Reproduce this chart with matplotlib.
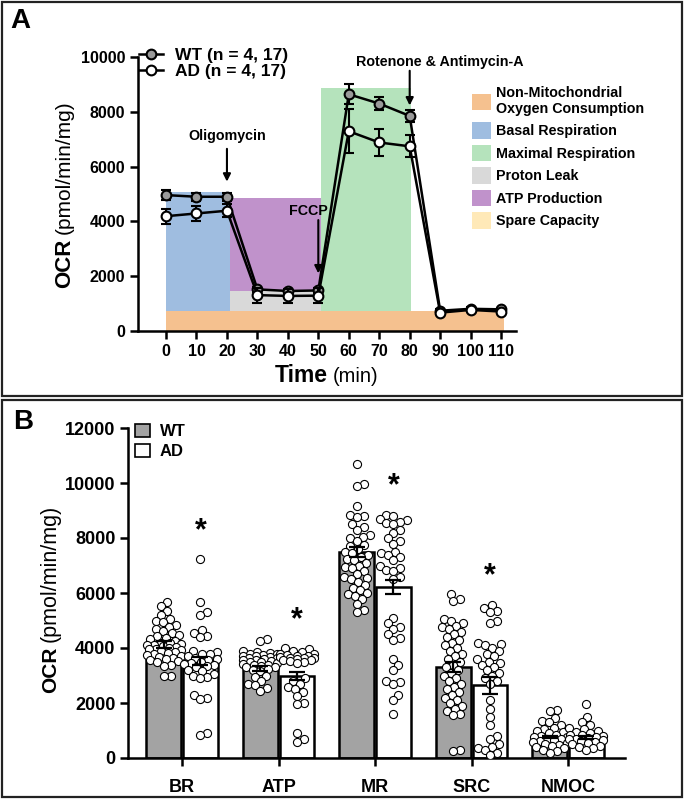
import matplotlib
matplotlib.use("Agg")
import matplotlib.pyplot as plt
import numpy as np
from matplotlib.patches import Patch, Rectangle
from matplotlib.lines import Line2D

plt.rcParams['font.family'] = ['Liberation Sans', 'DejaVu Sans']

W, H = 684, 799

# ---------------- panel A data ----------------
time_min = [0, 10, 20, 30, 40, 50, 60, 70, 80, 90, 100, 110]
wt_ocr = [4960, 4900, 4900, 1520, 1460, 1480, 8640, 8300, 7850, 740, 810, 790]
wt_sem = [180, 150, 150, 100, 90, 90, 370, 240, 220, 60, 60, 60]
ad_ocr = [4190, 4290, 4390, 1310, 1280, 1290, 7290, 6880, 6740, 670, 770, 710]
ad_sem = [280, 260, 240, 270, 250, 270, 800, 490, 400, 60, 60, 60]

region_labels = ['Non-Mitochondrial\nOxygen Consumption', 'Basal Respiration',
                 'Maximal Respiration', 'Proton Leak', 'ATP Production', 'Spare Capacity']
region_colors = ['#F5C18F', '#9FBDE0', '#B5E3BC', '#D9D9D9', '#C092CB', '#FFE9B8']
# (t_start, t_end, ocr_low, ocr_high)
nonmito_span = (0, 111, 0, 740)
basal_span = (0, 21, 740, 5080)
atp_span = (21, 51, 1450, 4850)
leak_span = (21, 51, 740, 1450)
maximal_span = (51, 80.5, 740, 8860)

# ---------------- panel B data ----------------
categories = ['BR', 'ATP', 'MR', 'SRC', 'NMOC']
wt_mean = [4130, 3250, 7490, 3310, 760]
ad_mean = [3530, 2970, 6220, 2640, 750]
wt_err = [130, 80, 190, 170, 50]
ad_err = [160, 150, 270, 300, 50]
star_y = [8260, 5000, 9900, 6620, None]

wt_br = [5680, 5520, 5350, 5200, 5050, 4980, 4950, 4850, 4780, 4700, 4620, 4550, 4480, 4420,
         4380, 4320, 4260, 4200, 4180, 4150, 4120, 4100, 4060, 4030, 4000, 3980, 3950, 3920,
         3880, 3850, 3820, 3780, 3740, 3700, 3680, 3640, 3600, 3560, 3520, 3480, 3400, 3350,
         3000, 2980]
ad_br = [7220, 5680, 5300, 5200, 4650, 4550, 4450, 4400, 3900, 3850, 3800, 3780, 3700, 3650,
         3600, 3550, 3500, 3450, 3420, 3400, 3350, 3300, 3200, 3150, 3050, 3000, 2950, 2900,
         2300, 2200, 2150, 900, 850]
wt_atp = [4330, 4250, 3900, 3850, 3820, 3800, 3780, 3750, 3720, 3700, 3680, 3650, 3620, 3600,
          3580, 3560, 3540, 3500, 3480, 3450, 3420, 3400, 3380, 3350, 3320, 3300, 3250, 3200,
          3150, 3000, 2950, 2800, 2700, 2650, 2550, 2450]
ad_atp = [4000, 3950, 3900, 3850, 3800, 3780, 3750, 3720, 3700, 3680, 3650, 3640, 3620, 3600,
          3580, 3550, 3520, 3500, 3450, 2900, 2800, 2700, 2600, 2500, 2400, 2250, 2000, 1950,
          900, 700, 600]
wt_mr = [10680, 9950, 9900, 9150, 8850, 8800, 8750, 8500, 8400, 8300, 8100, 8050, 8000, 7900,
         7750, 7700, 7600, 7500, 7450, 7400, 7300, 7250, 7200, 7100, 7000, 6950, 6900, 6800,
         6700, 6600, 6550, 6500, 6400, 6300, 6200, 6100, 6000, 5950, 5900, 5800, 5600, 5400,
         5300]
ad_mr = [8850, 8800, 8700, 8650, 8600, 8550, 8500, 8300, 8200, 8000, 7900, 7800, 7500, 7450,
         7400, 7300, 7200, 7000, 6900, 6850, 6800, 6600, 6500, 5100, 4900, 4750, 4700, 4500,
         4350, 4300, 3600, 3400, 3200, 2800, 2750, 2700, 2300, 2100, 1600]
wt_src = [5950, 5800, 5700, 5050, 5000, 4900, 4800, 4750, 4700, 4600, 4500, 4400, 4300, 4200,
          4100, 4000, 3900, 3800, 3700, 3600, 3500, 3400, 3300, 3200, 3100, 3000, 2900, 2800,
          2700, 2600, 2500, 2400, 2300, 2200, 2100, 2000, 1900, 1800, 1700, 1600, 1550, 300,
          250]
ad_src = [5550, 5450, 5350, 5300, 5000, 4900, 4200, 4150, 4100, 4000, 3900, 3800, 3700, 3600,
          3500, 3450, 3400, 3300, 3200, 3100, 3000, 2900, 2800, 2700, 2100, 1800, 1500, 1200,
          800, 700, 500, 400, 350, 300, 200, 100]
wt_nmoc = [1750, 1700, 1450, 1350, 1300, 1200, 1100, 1050, 1000, 950, 900, 850, 800, 780, 750,
           700, 680, 650, 620, 600, 550, 500, 480, 450, 400, 350, 300, 250, 200]
ad_nmoc = [1950, 1500, 1300, 1200, 1100, 1050, 1000, 950, 900, 850, 820, 800, 750, 720, 700,
           680, 650, 620, 600, 550, 500, 450, 400, 350, 300]
wt_points = [wt_br, wt_atp, wt_mr, wt_src, wt_nmoc]
ad_points = [ad_br, ad_atp, ad_mr, ad_src, ad_nmoc]


def fig_box(y_top, y_bot):
    r = Rectangle((2 / W, 1 - y_bot / H), 680 / W, (y_bot - y_top) / H,
                  transform=fig.transFigure, fill=False, edgecolor='#222222', lw=1.6)
    fig.patches.append(r)


def ylabel(x_base, y_split, size_big, size_small):
    fig.text(x_base / W, 1 - (y_split + 2) / H, 'OCR', rotation=90, rotation_mode='anchor',
             ha='right', va='baseline', fontsize=size_big, fontweight='bold')
    fig.text(x_base / W, 1 - (y_split - 3) / H, '(pmol/min/mg)', rotation=90,
             rotation_mode='anchor', ha='left', va='baseline', fontsize=size_small)


def swarm(values, px_per_val, diam, max_half):
    vals = np.asarray(values, dtype=float)
    order = np.argsort(vals)
    cands = [0]
    for k in range(1, max_half + 1):
        cands += [k, -k]
    placed = []
    offs = np.zeros(len(vals))
    for i in order:
        y = vals[i] * px_per_val
        best, best_ov = 0, np.inf
        for c in cands:
            ov = 0.0
            for px, py in placed:
                d = np.hypot(c - px, y - py)
                if d < diam:
                    ov += diam - d
            if ov == 0:
                best = c
                break
            if ov < best_ov - 1e-9:
                best_ov, best = ov, c
        placed.append((best, y))
        offs[i] = best
    return offs


fig = plt.figure(figsize=(W / 100, H / 100), dpi=100)
fig_box(2, 396)
fig_box(400, 797)

# ================= panel A =================
axA = fig.add_axes([138 / W, 1 - 331 / H, (516 - 138) / W, (331 - 57) / H])
spans = [nonmito_span, basal_span, maximal_span, leak_span, atp_span]
for (t0, t1, y0, y1), col in zip(spans, region_colors):
    axA.fill_between([t0, t1], y0, y1, color=col, lw=0, zorder=1)

axA.errorbar(time_min, wt_ocr, yerr=wt_sem, color='black', lw=1.8, marker='o', ms=7,
             mfc='#9A9A9A', mec='black', mew=1.5, capsize=3.5, elinewidth=1.5, capthick=1.5,
             zorder=4)
axA.errorbar(time_min, ad_ocr, yerr=ad_sem, color='black', lw=1.8, marker='o', ms=7,
             mfc='white', mec='black', mew=1.5, capsize=3.5, elinewidth=1.5, capthick=1.5,
             zorder=5)

arrow = dict(arrowstyle='-|>', color='black', lw=1.5, mutation_scale=11)
axA.annotate('', xy=(20, 5350), xytext=(20, 6750), arrowprops=arrow, zorder=6)
axA.text(20, 7120, 'Oligomycin', ha='center', va='center', fontsize=10.3, fontweight='bold')
axA.annotate('', xy=(50, 2000), xytext=(50, 4150), arrowprops=arrow, zorder=6)
axA.text(46.6, 4390, 'FCCP', ha='center', va='center', fontsize=10.3, fontweight='bold')
axA.annotate('', xy=(80, 8130), xytext=(80, 9600), arrowprops=arrow, zorder=6)
axA.text(90, 9820, 'Rotenone & Antimycin-A', ha='center', va='center', fontsize=10.3,
         fontweight='bold')

axA.set_xlim(-9.2, 114.9)
axA.set_ylim(0, 10000)
axA.set_xticks(time_min)
axA.set_yticks(range(0, 10001, 2000))
for s in ['top', 'right']:
    axA.spines[s].set_visible(False)
for s in ['left', 'bottom']:
    axA.spines[s].set_linewidth(1.8)
    axA.spines[s].set_zorder(7)
axA.tick_params(width=1.8, length=6, labelsize=11.5, pad=3)
for lab in axA.get_xticklabels() + axA.get_yticklabels():
    lab.set_fontweight('bold')

hA = [Line2D([], [], color='black', lw=1.8, marker='o', ms=7, mfc='#9A9A9A', mec='black', mew=1.5),
      Line2D([], [], color='black', lw=1.8, marker='o', ms=7, mfc='white', mec='black', mew=1.5)]
legA = fig.legend(hA, ['WT (n = 4, 17)', 'AD (n = 4, 17)'], loc='upper left',
                  bbox_to_anchor=(139 / W, 1 - 48 / H), bbox_transform=fig.transFigure,
                  frameon=False, borderpad=0, borderaxespad=0, handlelength=1.4,
                  handletextpad=0.7, labelspacing=0.05, prop={'weight': 'bold', 'size': 12.5})

hR = [Patch(facecolor=c, edgecolor='none') for c in region_colors]
fig.legend(hR, region_labels, loc='upper left', bbox_to_anchor=(472 / W, 1 - 86 / H),
           bbox_transform=fig.transFigure, frameon=False, borderpad=0, borderaxespad=0,
           handlelength=1.33, handleheight=1.4, handletextpad=0.35, labelspacing=0.42,
           prop={'weight': 'bold', 'size': 10.3})

ylabel(70, 237, 16, 15)
fig.text(328 / W, 1 - 382 / H, 'Time', ha='right', va='baseline', fontsize=16.5,
         fontweight='bold')
fig.text(333 / W, 1 - 382 / H, '(min)', ha='left', va='baseline', fontsize=14.5)
fig.text(10 / W, 1 - 28 / H, 'A', ha='left', va='baseline', fontsize=20, fontweight='bold')

# ================= panel B =================
axB = fig.add_axes([128 / W, 1 - 758 / H, (625 - 128) / W, (758 - 428) / H])
x = np.arange(len(categories))
off, bw = 0.19, 0.36
axB.bar(x - off, wt_mean, width=bw, color='#A3A3A3', edgecolor='black', lw=1.8, zorder=2)
axB.bar(x + off, ad_mean, width=bw, color='white', edgecolor='black', lw=1.8, zorder=2)

px_x = 96.5
px_y = 330 / 12000
for i in range(len(categories)):
    for pts, c in ((wt_points[i], x[i] - off), (ad_points[i], x[i] + off)):
        o = swarm(pts, px_y, 7.0, 17)
        axB.scatter(c + o / px_x, pts, s=34, facecolor='white', edgecolor='black',
                    linewidth=0.8, zorder=3)
axB.errorbar(x - off, wt_mean, yerr=wt_err, fmt='none', ecolor='black', elinewidth=1.6,
             capsize=6, capthick=1.6, zorder=4)
axB.errorbar(x + off, ad_mean, yerr=ad_err, fmt='none', ecolor='black', elinewidth=1.6,
             capsize=6, capthick=1.6, zorder=4)
for i, sy in enumerate(star_y):
    if sy is not None:
        axB.text(x[i] + off, sy, '*', ha='center', va='center', fontsize=22,
                 fontweight='bold')

axB.set_xlim(-0.56, 4.59)
axB.set_ylim(0, 12000)
axB.set_xticks(x)
axB.set_xticklabels(categories)
axB.set_yticks(range(0, 12001, 2000))
for s in ['top', 'right']:
    axB.spines[s].set_visible(False)
for s in ['left', 'bottom']:
    axB.spines[s].set_linewidth(1.8)
axB.tick_params(axis='y', width=1.8, length=6, labelsize=13, pad=3)
axB.tick_params(axis='x', width=1.8, length=6, labelsize=13, pad=9)
for lab in axB.get_xticklabels() + axB.get_yticklabels():
    lab.set_fontweight('bold')

hB = [Patch(facecolor='#A3A3A3', edgecolor='black', lw=1.2),
      Patch(facecolor='white', edgecolor='black', lw=1.2)]
fig.legend(hB, ['WT', 'AD'], loc='upper left', bbox_to_anchor=(135 / W, 1 - 424 / H),
           bbox_transform=fig.transFigure, frameon=False, borderpad=0, borderaxespad=0,
           handlelength=0.9, handleheight=0.78, handletextpad=0.6, labelspacing=0.3,
           prop={'weight': 'bold', 'size': 12})

ylabel(56, 645, 15, 15.5)
fig.text(13 / W, 1 - 429 / H, 'B', ha='left', va='baseline', fontsize=20, fontweight='bold')

fig.savefig('out.png', dpi=100)
